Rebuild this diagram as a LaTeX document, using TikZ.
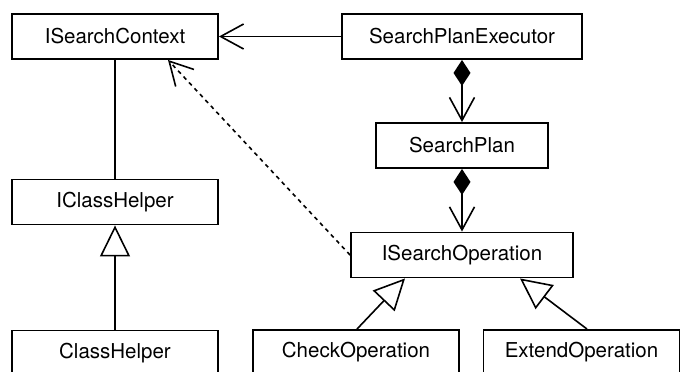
\documentclass[tikz,border=0pt]{standalone}
\usepackage{fontspec}
\setmainfont{TeX Gyre Heros}
\usetikzlibrary{arrows.meta}
\begin{document}
\begin{tikzpicture}[x=1pt,y=1pt,
  cls/.style={draw,line width=1.9pt,inner sep=0pt,minimum height=45pt,
    font=\fontsize{20.5}{24}\selectfont},
  link/.style={line width=1.6pt},
  nav/.style={link,-{Straight Barb[length=23pt,width=25pt,line width=1.6pt]}},
  comp/.style={link,{Diamond[length=26pt,width=17pt]}-{Straight Barb[length=23pt,width=25pt,line width=1.6pt]}},
  gen/.style={link,-{Triangle[open,length=31pt,width=30pt,fill=white,line width=1.6pt]}},
  dep/.style={nav,dash pattern=on 4pt off 4pt}]
\useasboundingbox (0,0) rectangle (680,-372);
\clip (0,0) rectangle (680,-372);

% classes
\node[cls,minimum width=206pt] (isc) at (115,-36.5) {ISearchContext};
\node[cls,minimum width=240pt] (spe) at (462,-36.5) {SearchPlanExecutor};
\node[cls,minimum width=172pt] (sp)  at (462,-145.5) {SearchPlan};
\node[cls,minimum width=222pt] (iso) at (462,-255) {ISearchOperation};
\node[cls,minimum width=206pt] (ich) at (115,-202) {IClassHelper};
\node[cls,minimum width=206pt] (ch)  at (115,-353) {ClassHelper};
\node[cls,minimum width=206pt] (chk) at (356,-352.5) {CheckOperation};
\node[cls,minimum width=196pt] (ext) at (581.5,-352.5) {ExtendOperation};

% associations
\draw[nav] (spe.west) -- (isc.east);
\draw[link] (isc.south) -- (ich.north);
\draw[comp] (spe.south) -- (sp.north);
\draw[comp] (sp.south) -- (iso.north);
\draw[dep] (iso.west) -- ([xshift=53pt]isc.south);

% generalizations
\draw[gen] (ch.north) -- (ich.south);
\draw[gen] ([xshift=1pt]chk.north) -- ([xshift=-57pt]iso.south);
\draw[gen] ([xshift=5.5pt]ext.north) -- ([xshift=58pt]iso.south);
\end{tikzpicture}
\end{document}
